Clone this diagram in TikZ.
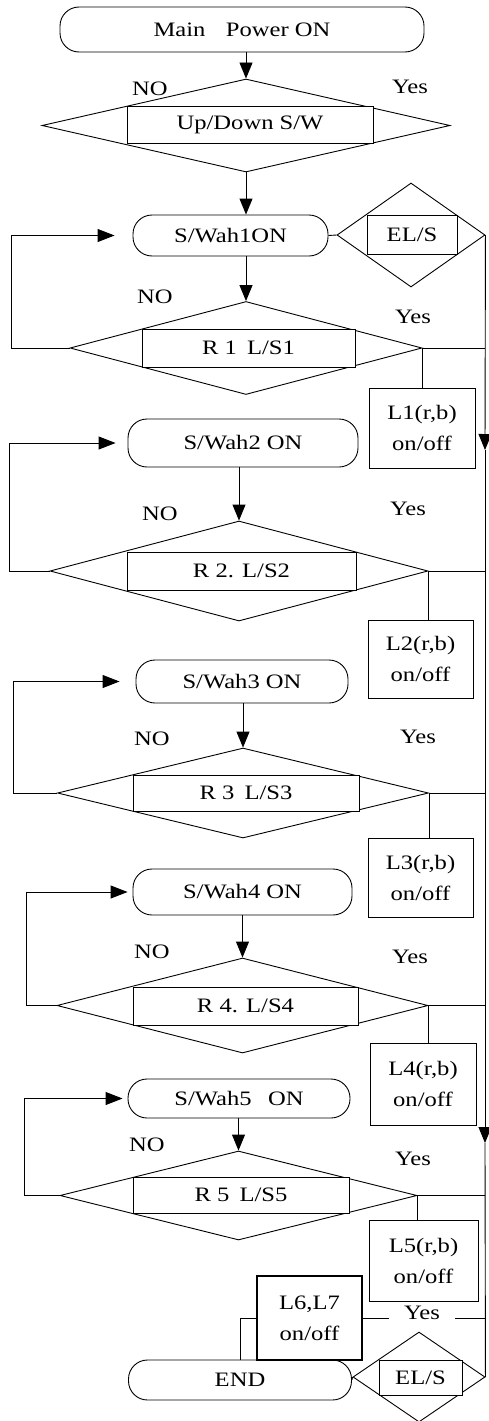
\documentclass[tikz,border=0pt]{standalone}
\usepackage{fontspec}
\setmainfont{Liberation Serif}[FakeStretch=1.2]
\usetikzlibrary{shapes.geometric,arrows.meta}
\begin{document}
\begin{tikzpicture}[x=1pt,y=-1pt,line width=0.9pt,
  every node/.style={font=\fontsize{20.5}{31}\selectfont},
  term/.style={draw,rectangle,rounded corners=19pt,inner sep=0pt},
  dec/.style={draw,diamond,inner sep=0pt},
  inrect/.style={draw,fill=white,rectangle,inner sep=0pt},
  lamp/.style={draw,rectangle,inner sep=0pt,align=center},
  lbl/.style={inner sep=1pt},
  arr/.style={-{Triangle[length=16pt,width=13pt]}},
  larr/.style={-{Triangle[length=17pt,width=13pt]}}]
\useasboundingbox (0,0) rectangle (489,1421);

% top
\node[term,minimum width=364pt,minimum height=45pt] (main) at (242,29.5) {Main\quad Power ON};
\node[dec,minimum width=408pt,minimum height=93pt] (d0) at (246,125.5) {};
\node[inrect,minimum width=246pt,minimum height=37pt] (r0) at (250,124.5) {Up/Down S/W};
\node[lbl] (no0) at (150,89) {NO};
\node[lbl] (yes0) at (410,87) {Yes};
\draw[arr] (d0.north |- main.south) -- (d0.north);

% block 1
\node[term,minimum width=195pt,minimum height=41pt] (s1) at (230.5,235.5) {S/Wah1ON};
\draw[arr] (d0.south) -- (d0.south |- s1.north);
\node[dec,minimum width=148pt,minimum height=104pt] (e1) at (411,235) {};
\node[inrect,minimum width=90pt,minimum height=39pt] (er1) at (412,234.5) {EL/S};
\draw (s1.east) -- (e1.west);
\node[dec,minimum width=352pt,minimum height=93pt] (d1) at (246,348) {};
\node[inrect,minimum width=213pt,minimum height=38pt] (r1) at (248.5,348) {R 1\enspace L/S1};
\draw[arr] (d1.north |- s1.south) -- (d1.north);
\draw[larr,shorten >=18pt] (d1.west) -- ++(-58,0) |- (s1.west);
\node[lbl] (no1) at (155,297) {NO};
\node[lbl] (yes1) at (413,317) {Yes};
\node[lamp,minimum width=106pt,minimum height=80pt] (L1) at (422,428) {L1(r,b)\\on/off};
\draw (d1.east) -- (d1.east -| e1.east);
\draw (d1.east) -- (d1.east |- L1.north);

% block 2
\node[term,minimum width=230pt,minimum height=48pt] (s2) at (243,443) {S/Wah2 ON};
\node[dec,minimum width=378pt,minimum height=100pt] (d2) at (239,571) {};
\node[inrect,minimum width=229pt,minimum height=38pt] (r2) at (241.5,571) {R 2. L/S2};
\draw[arr] (d2.north |- s2.south) -- (d2.north);
\draw[larr,shorten >=12pt] (d2.west) -- ++(-40,0) |- (s2.west);
\node[lbl] (no2) at (160,514) {NO};
\node[lbl] (yes2) at (408,509) {Yes};
\node[lamp,minimum width=105pt,minimum height=78pt] (L2) at (420.5,659) {L2(r,b)\\on/off};
\draw (d2.east) -- (d2.east -| e1.east);
\draw (d2.east) -- (d2.east |- L2.north);

% block 3
\node[term,minimum width=212pt,minimum height=43pt] (s3) at (242,681.5) {S/Wah3 ON};
\node[dec,minimum width=371pt,minimum height=90pt] (d3) at (243,793) {};
\node[inrect,minimum width=226pt,minimum height=36pt] (r3) at (246,793) {R 3\enspace L/S3};
\draw[arr] (d3.north |- s3.south) -- (d3.north);
\draw[larr,shorten >=16pt] (d3.west) -- ++(-44,0) |- (s3.west);
\node[lbl] (no3) at (152,739) {NO};
\node[lbl] (yes3) at (418,737) {Yes};
\node[lamp,minimum width=105pt,minimum height=79pt] (L3) at (420.5,877.5) {L3(r,b)\\on/off};
\draw (d3.east) -- (d3.east -| e1.east);
\draw (d3.east) -- (d3.east |- L3.north);

% block 4
\node[term,minimum width=219pt,minimum height=46pt] (s4) at (242.5,892) {S/Wah4 ON};
\node[dec,minimum width=371pt,minimum height=95pt] (d4) at (242.5,1005.5) {};
\node[inrect,minimum width=225pt,minimum height=38pt] (r4) at (245.5,1006) {R 4. L/S4};
\draw[arr] (d4.north |- s4.south) -- (d4.north);
\draw[larr,shorten >=5pt] (d4.west) -- ++(-30,0) |- (s4.west);
\node[lbl] (no4) at (152,952) {NO};
\node[lbl] (yes4) at (410,957) {Yes};
\node[lamp,minimum width=106pt,minimum height=82pt] (L4) at (423,1084) {L4(r,b)\\on/off};
\draw (d4.east) -- (d4.east -| e1.east);
\draw (d4.east) -- (d4.east |- L4.north);

% block 5
\node[term,minimum width=222pt,minimum height=39pt] (s5) at (239,1098.5) {S/Wah5\enspace\ ON};
\node[dec,minimum width=357pt,minimum height=89pt] (d5) at (238.5,1195.5) {};
\node[inrect,minimum width=216pt,minimum height=36pt] (r5) at (241,1195) {R 5\enspace L/S5};
\draw[arr] (d5.north |- s5.south) -- (d5.north);
\draw[larr,shorten >=5pt] (d5.west) -- ++(-35,0) |- (s5.west);
\node[lbl] (no5) at (147,1145) {NO};
\node[lbl] (yes5) at (413,1159) {Yes};
\node[lamp,minimum width=109pt,minimum height=81pt] (L5) at (423.5,1260.5) {L5(r,b)\\on/off};
\draw (d5.east) -- (d5.east -| e1.east);
\draw (d5.east) -- (d5.east |- L5.north);

% end part
\node[lamp,line width=2.2pt,minimum width=105pt,minimum height=84pt] (L67) at (309.5,1318) {L6,L7\\on/off};
\node[term,minimum width=223pt,minimum height=40pt] (END) at (240,1380) {END};
\node[dec,minimum width=132pt,minimum height=90pt] (e2) at (419,1377) {};
\node[inrect,minimum width=83pt,minimum height=35pt] (er2) at (420.5,1377.5) {EL/S};
\draw (END.east) -- (e2.west);
\draw (L67.east -| e1.east) -- (L67.east);
\draw (L67.west) -| (END.north);
\node[lbl,fill=white,minimum width=66pt,minimum height=22pt] (yes6) at (422,1313) {Yes};

% right line
\coordinate (a1) at (485,450);
\coordinate (a2) at (485,1143);
\draw[arr] (e1.east) -- (a1);
\draw[arr] (a1) -- (a2);
\draw (a2) -- (e2.east);
\end{tikzpicture}
\end{document}
